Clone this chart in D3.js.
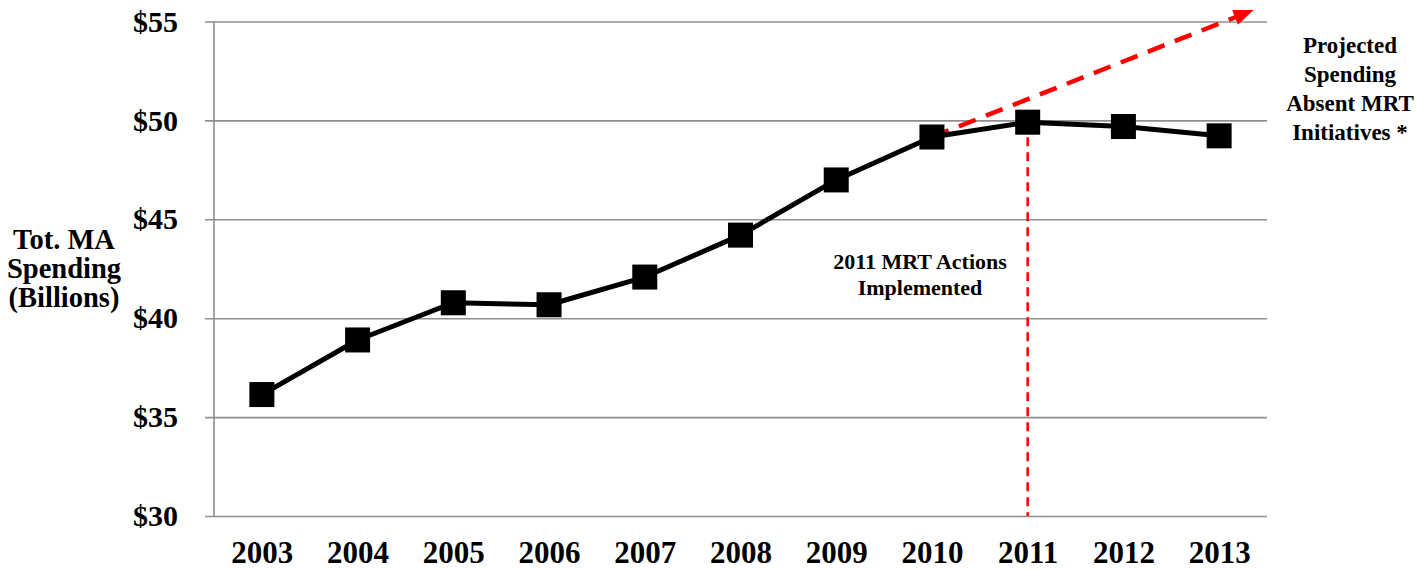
<!DOCTYPE html>
<html lang="en">
<head>
<meta charset="UTF-8">
<title>Total MA Spending</title>
<script src="https://cdn.jsdelivr.net/npm/d3@7/dist/d3.min.js"></script>
<style>
  body { margin: 0; background: #fff; }
  text { font-family: "Liberation Serif", "Times New Roman", serif; font-weight: bold; fill: #000; }
</style>
</head>
<body>
<script>

var w = 1427;
var h = 570;
var margin = {top: 21.5, right: 160, bottom: 54, left: 214};

// data
var years = [2003, 2004, 2005, 2006, 2007, 2008, 2009, 2010, 2011, 2012, 2013];
var spending = [36.14, 38.9, 40.78, 40.68, 42.08, 44.2, 46.99, 49.16, 49.91, 49.69, 49.22];
var yTicks = [30, 35, 40, 45, 50, 55];
// projection drawn from 2010 onward, arrow runs a bit past 2013
var projYears = [2010, 2013.36];
var projValues = [49.16, 55.58];
var mrtYear = 2011;
var mrtValue = 49.91;

var x = d3.scaleLinear()
    .domain([years[0] - 0.5, years[years.length - 1] + 0.5])
    .range([margin.left, w - margin.right]);

var y = d3.scaleLinear()
    .domain([30, 55])
    .range([h - margin.bottom, margin.top]);

var svg = d3.select("body")
    .append("svg")
    .attr("width", w)
    .attr("height", h);

// gridlines + y labels
var yAxis = svg.append("g")
    .attr("transform", "translate(" + margin.left + ",0)")
    .call(d3.axisLeft(y)
        .tickValues(yTicks)
        .tickSize(-(w - margin.right - margin.left))
        .tickPadding(36)
        .tickFormat(function(d) { return "$" + d; }));

yAxis.select(".domain").remove();
yAxis.selectAll(".tick line")
    .attr("x1", -9)
    .attr("stroke", "#8f8f8f")
    .attr("stroke-width", 1.6);
yAxis.selectAll(".tick text")
    .attr("font-size", "30px")
    .attr("font-family", "Liberation Serif")
    .attr("font-weight", "bold")
    .attr("fill", "#000");

// vertical axis line
svg.append("line")
    .attr("x1", margin.left).attr("x2", margin.left)
    .attr("y1", y(55)).attr("y2", y(30))
    .attr("stroke", "#8f8f8f")
    .attr("stroke-width", 1.6);

// x labels
var xAxis = svg.append("g")
    .attr("transform", "translate(0," + (h - margin.bottom) + ")")
    .call(d3.axisBottom(x)
        .tickValues(years)
        .tickSize(0)
        .tickPadding(25)
        .tickFormat(d3.format("d")));

xAxis.select(".domain").remove();
xAxis.selectAll(".tick text")
    .attr("font-size", "31px")
    .attr("font-family", "Liberation Serif")
    .attr("font-weight", "bold")
    .attr("fill", "#000");

// y title
var yTitle = svg.append("text")
    .attr("text-anchor", "middle")
    .attr("font-size", "28.5px");
["Tot. MA", "Spending", "(Billions)"].forEach(function(s, i) {
    yTitle.append("tspan").attr("x", 64).attr("y", 249 + i * 29).text(s);
});

// MRT vertical marker
svg.append("line")
    .attr("x1", x(mrtYear)).attr("x2", x(mrtYear))
    .attr("y1", y(mrtValue)).attr("y2", y(30))
    .attr("stroke", "#ff0000")
    .attr("stroke-width", 2.5)
    .attr("stroke-dasharray", "9,6");

// arrow head
svg.append("defs").append("marker")
    .attr("id", "arrow")
    .attr("markerUnits", "userSpaceOnUse")
    .attr("viewBox", "0 0 20 16")
    .attr("refX", 20)
    .attr("refY", 8)
    .attr("markerWidth", 20)
    .attr("markerHeight", 16)
    .attr("orient", "auto")
    .append("path")
    .attr("d", "M0,0L20,8L0,16Z")
    .attr("fill", "#ff0000");

var proj = projYears.map(function(d, i) { return [d, projValues[i]]; });

svg.append("path")
    .datum(proj)
    .attr("d", d3.line().x(function(d) { return x(d[0]); }).y(function(d) { return y(d[1]); }))
    .attr("fill", "none")
    .attr("stroke", "#ff0000")
    .attr("stroke-width", 4.5)
    .attr("stroke-dasharray", "18,11")
    .attr("marker-end", "url(#arrow)");

// main series
var pts = years.map(function(d, i) { return [d, spending[i]]; });

svg.append("path")
    .datum(pts)
    .attr("d", d3.line().x(function(d) { return x(d[0]); }).y(function(d) { return y(d[1]); }))
    .attr("fill", "none")
    .attr("stroke", "#000")
    .attr("stroke-width", 5)
    .attr("stroke-linejoin", "round");

svg.selectAll("rect.pt")
    .data(pts)
    .enter()
    .append("rect")
    .attr("class", "pt")
    .attr("x", function(d) { return x(d[0]) - 12.5; })
    .attr("y", function(d) { return y(d[1]) - 12.5; })
    .attr("width", 25)
    .attr("height", 25)
    .attr("fill", "#000");

// annotations
var note = svg.append("text")
    .attr("text-anchor", "middle")
    .attr("font-size", "22px");
["2011 MRT Actions", "Implemented"].forEach(function(s, i) {
    note.append("tspan").attr("x", 920).attr("y", 269 + i * 26).text(s);
});

var projNote = svg.append("text")
    .attr("text-anchor", "middle")
    .attr("font-size", "23px");
["Projected", "Spending", "Absent MRT", "Initiatives *"].forEach(function(s, i) {
    projNote.append("tspan").attr("x", 1350).attr("y", 53 + i * 29).text(s);
});

</script>
</body>
</html>
